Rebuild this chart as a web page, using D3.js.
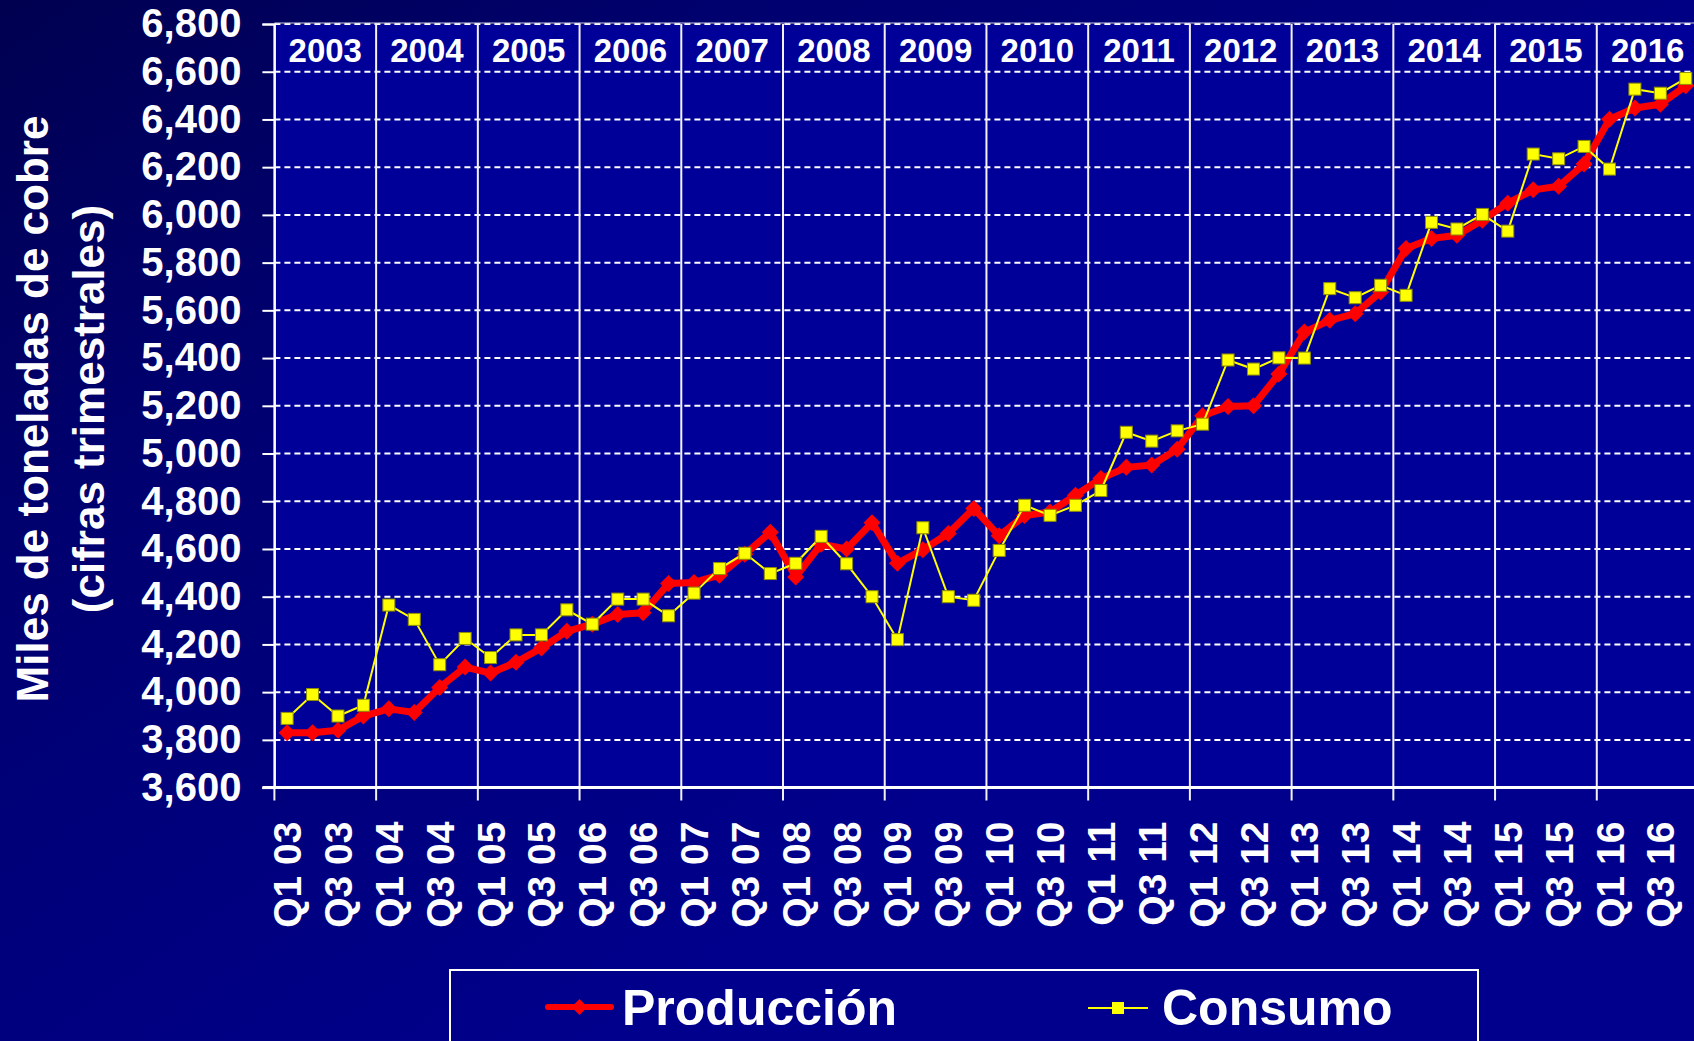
<!DOCTYPE html>
<html>
<head>
<meta charset="utf-8">
<title>Producción y consumo de cobre</title>
<script src="https://cdn.jsdelivr.net/npm/d3@7"></script>
<style>
  body { margin: 0; background: #000080; overflow: hidden; }
  svg { display: block; font-family: "Liberation Sans", Arial, sans-serif; font-weight: bold; }
</style>
</head>
<body>
<div id="chart"></div>
<script>
// copper production vs consumption, quarterly 2003-2016 (miles de toneladas)
const years = ["2003", "2004", "2005", "2006", "2007", "2008", "2009",
               "2010", "2011", "2012", "2013", "2014", "2015", "2016"];
const quarterNames = ["Q1", "Q2", "Q3", "Q4"];

const production = [
  3830, 3830, 3840, 3900,
  3930, 3915, 4020, 4105,
  4080, 4125, 4185, 4255,
  4285, 4325, 4333, 4455,
  4460, 4490, 4578, 4670,
  4483, 4620, 4600, 4710,
  4540, 4597, 4665, 4770,
  4655, 4740, 4755, 4825,
  4895, 4942, 4952, 5018,
  5158, 5197, 5200, 5333,
  5509, 5558, 5586, 5677,
  5859, 5901, 5915, 5978,
  6049, 6105, 6120, 6213,
  6401, 6448, 6464, 6541
];

const consumption = [
  3890, 3990, 3900, 3945,
  4365, 4305, 4115, 4225,
  4145, 4240, 4240, 4345,
  4285, 4390, 4390, 4320,
  4415, 4518, 4582, 4497,
  4540, 4653, 4538, 4400,
  4220, 4689, 4400, 4385,
  4594, 4783, 4741, 4783,
  4845, 5089, 5052, 5095,
  5123, 5392, 5354, 5401,
  5400, 5691, 5653, 5705,
  5663, 5969, 5941, 6002,
  5932, 6255, 6235, 6287,
  6192, 6527, 6510, 6572
];

const yTicks = [3600, 3800, 4000, 4200, 4400, 4600, 4800, 5000, 5200,
                5400, 5600, 5800, 6000, 6200, 6400, 6600, 6800];

const seriesNames = ["Producción", "Consumo"];
const yTitle = ["Miles de toneladas de cobre", "(cifras trimestrales)"];

// "Q1 03", "Q2 03", ...
const quarters = [];
years.forEach(y => quarterNames.forEach(q => quarters.push(q + " " + y.slice(2))));

const width = 1694;
const height = 1041;
const plot = { left: 274.4, right: 1698.5, top: 24, bottom: 787.6 };

const svg = d3.select("#chart").append("svg")
  .attr("width", width)
  .attr("height", height);

// background
const defs = svg.append("defs");
const grad = defs.append("linearGradient")
  .attr("id", "bg")
  .attr("x1", "0").attr("y1", "0")
  .attr("x2", "0.7").attr("y2", "0.6");
grad.append("stop").attr("offset", "0").attr("stop-color", "#000050");
grad.append("stop").attr("offset", "0.35").attr("stop-color", "#00006e");
grad.append("stop").attr("offset", "1").attr("stop-color", "#00008c");

svg.append("rect")
  .attr("width", width)
  .attr("height", height)
  .attr("fill", "url(#bg)");

const x = d3.scaleBand()
  .domain(quarters)
  .range([plot.left, plot.right])
  .padding(0);

const y = d3.scaleLinear()
  .domain([3600, 6800])
  .range([plot.bottom, plot.top]);

const cx = q => x(q) + x.bandwidth() / 2;

// plot area
svg.append("rect")
  .attr("x", plot.left)
  .attr("y", plot.top)
  .attr("width", plot.right - plot.left)
  .attr("height", plot.bottom - plot.top)
  .attr("fill", "#000099");

// horizontal dashed grid
svg.append("g")
  .selectAll("line")
  .data(yTicks.filter(v => v > 3600))
  .enter()
  .append("line")
  .attr("x1", plot.left)
  .attr("x2", plot.right)
  .attr("y1", d => y(d))
  .attr("y2", d => y(d))
  .attr("stroke", "#ffffff")
  .attr("stroke-width", 2)
  .attr("stroke-dasharray", "6,4");

// thin top border
svg.append("line")
  .attr("x1", plot.left).attr("x2", plot.right)
  .attr("y1", plot.top - 1).attr("y2", plot.top - 1)
  .attr("stroke", "#c8c8e0")
  .attr("stroke-width", 1);

// year separators (solid) + ticks under the axis
const yearStarts = years.map(yr => "Q1 " + yr.slice(2));
svg.append("g")
  .selectAll("line")
  .data(yearStarts)
  .enter()
  .append("line")
  .attr("x1", d => x(d))
  .attr("x2", d => x(d))
  .attr("y1", plot.top)
  .attr("y2", plot.bottom + 13)
  .attr("stroke", "#f2f2f2")
  .attr("stroke-width", 2);

// year labels inside the top of the plot
svg.append("g")
  .selectAll("text")
  .data(years)
  .enter()
  .append("text")
  .attr("x", d => x("Q1 " + d.slice(2)) + x.bandwidth() * 2)
  .attr("y", 62)
  .attr("text-anchor", "middle")
  .attr("fill", "#ffffff")
  .attr("font-size", "33px")
  .text(d => d);

// y axis
const yAxis = svg.append("g")
  .attr("transform", `translate(${plot.left},0)`)
  .call(d3.axisLeft(y)
    .tickValues(yTicks)
    .tickFormat(d3.format(","))
    .tickSize(12)
    .tickPadding(21));
yAxis.select(".domain").attr("stroke", "#ffffff").attr("stroke-width", 2);
yAxis.selectAll(".tick line").attr("stroke", "#ffffff").attr("stroke-width", 2);
yAxis.selectAll(".tick text")
  .attr("fill", "#ffffff")
  .attr("font-size", "40px")
  .attr("font-family", "'Liberation Sans', Arial, sans-serif")
  .attr("font-weight", "bold");

// x axis: label every Q1 and Q3
const xAxis = svg.append("g")
  .attr("transform", `translate(0,${plot.bottom})`)
  .call(d3.axisBottom(x)
    .tickValues(quarters.filter(q => q.startsWith("Q1") || q.startsWith("Q3")))
    .tickSize(0));
xAxis.select(".domain").remove();
xAxis.selectAll(".tick text")
  .attr("transform", "rotate(-90)")
  .attr("x", -34)
  .attr("y", 0)
  .attr("dy", "0.36em")
  .attr("text-anchor", "end")
  .attr("fill", "#ffffff")
  .attr("font-size", "39px")
  .attr("font-family", "'Liberation Sans', Arial, sans-serif")
  .attr("font-weight", "bold");

// bottom axis line
svg.append("line")
  .attr("x1", plot.left - 12)
  .attr("x2", plot.right)
  .attr("y1", plot.bottom)
  .attr("y2", plot.bottom)
  .attr("stroke", "#ffffff")
  .attr("stroke-width", 3);

// series
const line = d3.line()
  .x((d, i) => cx(quarters[i]))
  .y(d => y(d));

const diamond = s => `M0,${-s}L${s},0L0,${s}L${-s},0Z`;

svg.append("path")
  .datum(production)
  .attr("d", line)
  .attr("fill", "none")
  .attr("stroke", "#ff0000")
  .attr("stroke-width", 7)
  .attr("stroke-linejoin", "round");

svg.append("g")
  .selectAll("path")
  .data(production)
  .enter()
  .append("path")
  .attr("d", diamond(8.5))
  .attr("transform", (d, i) => `translate(${cx(quarters[i])},${y(d)})`)
  .attr("fill", "#ff0000");

svg.append("path")
  .datum(consumption)
  .attr("d", line)
  .attr("fill", "none")
  .attr("stroke", "#ffff00")
  .attr("stroke-width", 2);

svg.append("g")
  .selectAll("rect")
  .data(consumption)
  .enter()
  .append("rect")
  .attr("x", (d, i) => cx(quarters[i]) - 6)
  .attr("y", d => y(d) - 6)
  .attr("width", 12)
  .attr("height", 12)
  .attr("fill", "#ffff00")
  .attr("stroke", "#8f8f00")
  .attr("stroke-width", 1);

// y axis title (two lines, rotated)
const title = svg.append("text")
  .attr("transform", "translate(48,409) rotate(-90)")
  .attr("text-anchor", "middle")
  .attr("fill", "#ffffff")
  .attr("font-size", "44px");
title.append("tspan").attr("x", 0).attr("y", 0).text(yTitle[0]);
title.append("tspan").attr("x", 0).attr("y", 56).text(yTitle[1]);

// legend
const legend = svg.append("g");
legend.append("rect")
  .attr("x", 450)
  .attr("y", 970)
  .attr("width", 1028)
  .attr("height", 100)
  .attr("fill", "none")
  .attr("stroke", "#ffffff")
  .attr("stroke-width", 2);

const prodItem = legend.append("g").attr("transform", "translate(548,1007)");
prodItem.append("line")
  .attr("x1", 0).attr("x2", 63)
  .attr("stroke", "#ff0000").attr("stroke-width", 6).attr("stroke-linecap", "round");
prodItem.append("path")
  .attr("d", diamond(8))
  .attr("transform", "translate(31.5,0)")
  .attr("fill", "#ff0000");
prodItem.append("text")
  .attr("x", 74).attr("y", 18)
  .attr("fill", "#ffffff").attr("font-size", "50px")
  .text(seriesNames[0]);

const consItem = legend.append("g").attr("transform", "translate(1088,1008)");
consItem.append("line")
  .attr("x1", 0).attr("x2", 60)
  .attr("stroke", "#ffff00").attr("stroke-width", 2);
consItem.append("rect")
  .attr("x", 24).attr("y", -6).attr("width", 12).attr("height", 12)
  .attr("fill", "#ffff00");
consItem.append("text")
  .attr("x", 74).attr("y", 17)
  .attr("fill", "#ffffff").attr("font-size", "50px")
  .text(seriesNames[1]);

console.log("chart drawn");
</script>
</body>
</html>
